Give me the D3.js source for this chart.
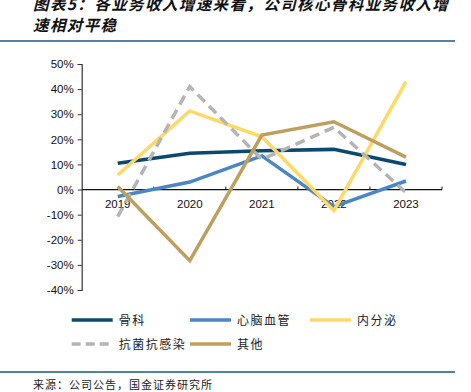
<!DOCTYPE html>
<html><head><meta charset="utf-8">
<script src="https://cdn.jsdelivr.net/npm/d3@7/dist/d3.min.js"></script>
<style>body{margin:0;background:#fff}svg{display:block}</style>
</head><body><svg id="c" width="471" height="392"></svg>
<script>
const years = ["2019","2020","2021","2022","2023"];
const seriesNames = ["骨科","心脑血管","内分泌","抗菌抗感染","其他"];
const guke = [10.5, 14.5, 15.5, 16.0, 10.0];
const xinnao = [-2.8, 3.0, 13.4, -6.8, 3.4];
const neifenmi = [5.8, 31.3, 21.0, -8.4, 43.0];
const kangjun = [-10.8, 41.0, 12.0, 24.8, -1.2];
const qita = [1.2, -28.3, 21.7, 27.0, 12.9];
const yTicks = [50,40,30,20,10,0,-10,-20,-30,-40];
const titleLines = ["图表5：各业务收入增速来看，公司核心骨科业务收入增","速相对平稳"];
const sourceText = "来源：公司公告，国金证券研究所";

const colors = ["#0b4a6e","#4a86c5","#ffd966","#b4b4b4","#bf9f5e"];
const data = [guke, xinnao, neifenmi, kangjun, qita];

const svg = d3.select("#c");
const cjk = "'Noto Sans CJK SC', sans-serif";

svg.selectAll("text.title").data(titleLines).join("text")
  .attr("x", 33).attr("y", (d,i)=> i===0 ? 10 : 31)
  .attr("font-family", cjk).attr("font-size", 15.5).attr("font-weight","bold")
  .attr("letter-spacing", 1.4)
  .attr("font-style","italic").attr("fill","#111").text(d=>d);

svg.append("line").attr("x1",0).attr("x2",455).attr("y1",41).attr("y2",41)
  .attr("stroke","#1a5a8a").attr("stroke-width",1.5);
svg.append("line").attr("x1",0).attr("x2",455).attr("y1",372).attr("y2",372)
  .attr("stroke","#4e8699").attr("stroke-width",2);
svg.append("text").attr("x",33).attr("y",389).attr("font-family",cjk)
  .attr("font-size",11).attr("letter-spacing",1).attr("fill","#222").text(sourceText);

const x = d3.scaleBand().domain(years).range([81.7, 442]);
const y = d3.scaleLinear().domain([-40, 50]).range([290, 64]);

// y axis
const ya = svg.append("g").attr("transform","translate(81.7,0)")
  .call(d3.axisLeft(y).tickValues(yTicks).tickFormat(d=>d+"%").tickSize(4).tickPadding(4));
ya.select(".domain").attr("stroke","#333").attr("stroke-width",1.2);
ya.selectAll(".tick line").attr("stroke","#333");
ya.selectAll("text").attr("font-family","Arial, 'Liberation Sans', sans-serif")
  .attr("font-size",11.5).attr("fill","#111");

// x axis at 0
const xa = svg.append("g").attr("transform",`translate(0,${y(0)})`);
xa.append("line").attr("x1",81.7).attr("x2",442).attr("stroke","#111").attr("stroke-width",1.2);
xa.selectAll("line.t").data(years).join("line").attr("class","t")
  .attr("x1",d=>x(d)+x.bandwidth()).attr("x2",d=>x(d)+x.bandwidth())
  .attr("y1",0).attr("y2",-3).attr("stroke","#111");
xa.selectAll("text").data(years).join("text")
  .attr("x",d=>x(d)+x.bandwidth()/2).attr("y",18).attr("text-anchor","middle")
  .attr("font-family","Arial, 'Liberation Sans', sans-serif").attr("font-size",11.5)
  .attr("fill","#111").text(d=>d);

const line = d3.line().x((d,i)=>x(years[i])+x.bandwidth()/2).y(d=>y(d));
data.forEach((s,k)=>{
  svg.append("path").attr("d",line(s)).attr("fill","none")
    .attr("stroke",colors[k]).attr("stroke-width",3.5)
    .attr("stroke-dasharray", k===3 ? "10,6" : null);
});

// legend
const legPos = [[71.7,320],[190,320],[310,320],[71.7,344],[190,344]];
seriesNames.forEach((n,k)=>{
  const [lx,ly] = legPos[k];
  svg.append("line").attr("x1",lx).attr("x2",lx+41).attr("y1",ly).attr("y2",ly)
    .attr("stroke",colors[k]).attr("stroke-width",3.5)
    .attr("stroke-dasharray", k===3 ? "9,5" : null);
  svg.append("text").attr("x",lx+47).attr("y",ly+4.5).attr("font-family",cjk)
    .attr("font-size",12).attr("letter-spacing",1.5).attr("fill","#222").text(n);
});
</script></body></html>
